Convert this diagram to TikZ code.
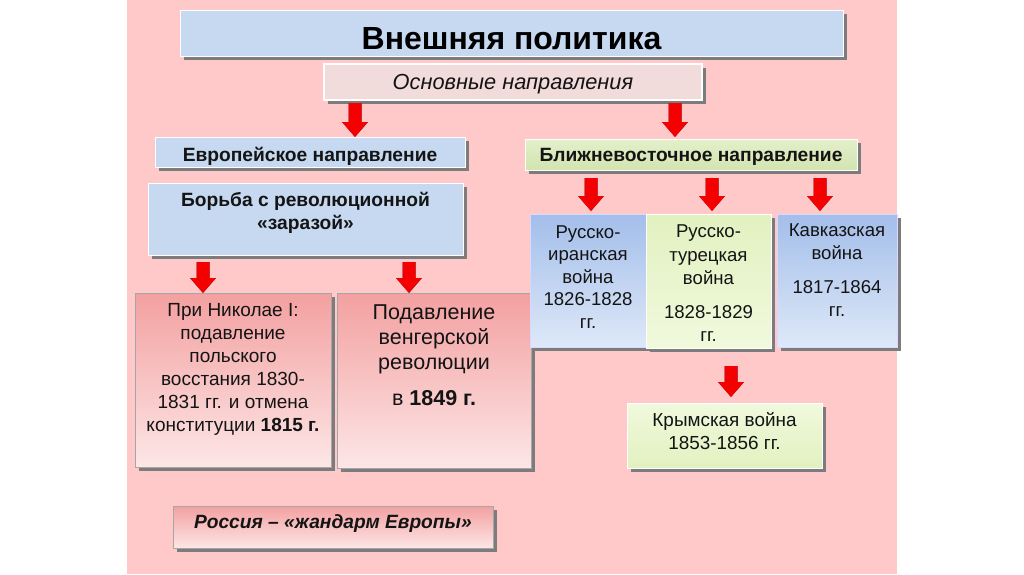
\documentclass[tikz,border=0pt]{standalone}
\usepackage{fontspec}
\setmainfont{Liberation Sans}
\usetikzlibrary{shadows,calc}
\definecolor{panel}{HTML}{FFC9C9}
\definecolor{shadowgray}{HTML}{7C7C7C}
\definecolor{arrred}{HTML}{F40000}
\definecolor{arrgray}{HTML}{4A4A62}
\definecolor{txt}{HTML}{141414}
\definecolor{blueA}{HTML}{C6D9F1}
\definecolor{blueTop}{HTML}{A3BEEA}
\definecolor{blueBot}{HTML}{DEE8F8}
\definecolor{greenA}{HTML}{E4F0CA}
\definecolor{greenB}{HTML}{D2E4B0}
\definecolor{greenTop}{HTML}{E2F1C0}
\definecolor{greenBot}{HTML}{F1F9DD}
\definecolor{pinkTop}{HTML}{F3A0A0}
\definecolor{pinkBot}{HTML}{FDE6E6}
\definecolor{osnpink}{HTML}{F2DCDB}
% width, height, top gap, content
\newcommand\inbox[4]{\parbox[c][#2][t]{#1}{\centering\vspace*{#3}\strut#4}}
\newcommand\arrowbody[1]{%
  \fill[#1] let \p1=(tmpT), \p2=(tmpB) in
    ({\x1-6.5pt},\y1) -- ({\x1+6.5pt},\y1) -- ({\x1+6.5pt},{\y2+15pt}) --
    ({\x1+13pt},{\y2+15pt}) -- (\x1,\y2) -- ({\x1-13pt},{\y2+15pt}) --
    ({\x1-6.5pt},{\y2+15pt}) -- cycle;}
% x, from node, gap below it, to node, gap above it
\newcommand\redarrow[5]{%
  \path let \p1=(#2.south), \p2=(#4.north) in
    coordinate (tmpT) at (#1pt,{\y1-#3pt})
    coordinate (tmpB) at (#1pt,{\y2+#5pt});
  \arrowbody{arrgray,xshift=-1.8pt,yshift=-1.2pt}
  \arrowbody{arrred}}
\tikzset{
  box/.style={rectangle, inner sep=0pt, outer sep=0pt, text=txt,
    drop shadow={shadow xshift=4pt, shadow yshift=-4pt, fill=shadowgray, opacity=1}},
  bluebox/.style={box, draw=white, line width=1pt, fill=blueA},
  pinkbox/.style={box, draw=gray!70, line width=0.6pt, top color=pinkTop, bottom color=pinkBot},
  gradblue/.style={box, draw=white!85!blue, line width=0.6pt, top color=blueTop, bottom color=blueBot},
  gradgreen/.style={box, draw=white, line width=0.6pt, top color=greenTop, bottom color=greenBot},
}
\begin{document}
\begin{tikzpicture}[x=1pt,y=-1pt]
\useasboundingbox (0,0) rectangle (1024,574);
\fill[white] (0,0) rectangle (1024,574);
\fill[panel] (127,0) rectangle (897,574);

% title
\node[bluebox, text=black, font=\fontsize{32}{38}\selectfont\bfseries] (title) at (511.5,33)
  {\inbox{663pt}{46pt}{12.4pt}{Внешняя политика}};
\node[box, draw=white, line width=1.5pt, fill=osnpink, font=\fontsize{21.8}{25}\selectfont\itshape] (osn) at (513,82)
  {\inbox{378pt}{36pt}{7.8pt}{Основные направления}};

\node[bluebox, font=\fontsize{19.2}{22}\selectfont\bfseries] (evr) at (310,152)
  {\inbox{310pt}{30pt}{9.3pt}{Европейское направление}};
\node[box, draw=white, line width=1pt, top color=greenA, bottom color=greenB,
  font=\fontsize{19.2}{22}\selectfont\bfseries] (blv) at (691,154.5)
  {\inbox{332pt}{31pt}{6.6pt}{Ближневосточное направление}};

\node[bluebox, font=\fontsize{19.2}{23}\selectfont\bfseries] (bor) at (305.5,219)
  {\inbox{315pt}{72pt}{7.6pt}{Борьба с революционной\\«заразой»}};

\node[pinkbox, font=\fontsize{19}{23}\selectfont] (pol) at (233,380)
  {\inbox{196pt}{174pt}{6.9pt}{При Николае I:\\подавление\\польского\\восстания 1830-\\1831 гг. и отмена\\конституции \textbf{1815 г.}}};
\node[pinkbox, font=\fontsize{21.5}{25}\selectfont] (ven) at (434,380.5)
  {\inbox{194pt}{175pt}{8.5pt}{Подавление\\венгерской\\революции\\[11pt]в \textbf{1849 г.}}};

\node[gradblue, font=\fontsize{18.6}{22.5}\selectfont] (iran) at (588,280.5)
  {\inbox{116pt}{133pt}{8.5pt}{Русско-\\иранская\\война\\1826-1828\\гг.}};
\node[gradgreen, font=\fontsize{18.6}{23.5}\selectfont] (tur) at (708.5,281)
  {\inbox{125pt}{134pt}{7.5pt}{Русско-\\турецкая\\война\\[10pt]1828-1829\\гг.}};
\node[gradblue, font=\fontsize{18.6}{22.5}\selectfont] (kav) at (837,280.5)
  {\inbox{120pt}{133pt}{7.2pt}{Кавказская\\война\\[12pt]1817-1864\\гг.}};

\node[box, draw=white, line width=0.6pt, top color=greenBot, bottom color=greenTop,
  font=\fontsize{18.9}{23}\selectfont] (krym) at (724.5,435.5)
  {\inbox{195pt}{65pt}{7.6pt}{Крымская война\\1853-1856 гг.}};

\node[pinkbox, font=\fontsize{19.2}{22}\selectfont\bfseries\itshape] (ros) at (333,527)
  {\inbox{320pt}{42pt}{6.6pt}{Россия – «жандарм Европы»}};

% arrows
\redarrow{355}{osn}{3}{evr}{0}
\redarrow{675}{osn}{3}{blv}{2}
\redarrow{203}{bor}{7}{pol}{0}
\redarrow{409}{bor}{7}{ven}{0}
\redarrow{591}{blv}{8}{iran}{3}
\redarrow{712}{blv}{8}{tur}{3}
\redarrow{820}{blv}{8}{kav}{3}
\redarrow{731}{tur}{18}{krym}{6}
\end{tikzpicture}
\end{document}
